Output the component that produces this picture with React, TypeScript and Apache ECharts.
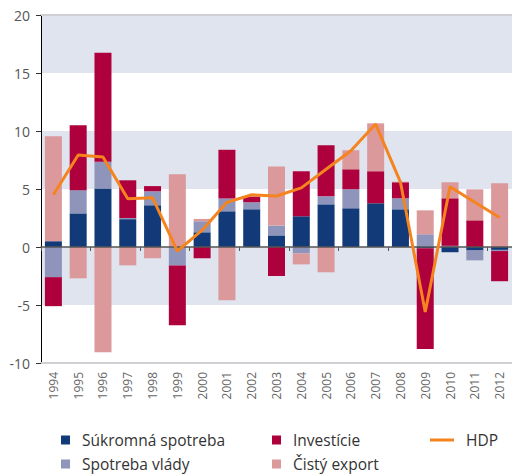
import React, { useEffect, useRef } from "react";
import * as echarts from "echarts";

const years = ["1994","1995","1996","1997","1998","1999","2000","2001","2002","2003","2004","2005","2006","2007","2008","2009","2010","2011","2012"];
const privateCons = [0.5, 2.9, 5.05, 2.4, 3.6, 0, 1.27, 3.08, 3.25, 1.0, 2.65, 3.68, 3.34, 3.77, 3.25, -0.1, -0.45, -0.3, -0.25];
const govCons = [-2.6, 2.0, 2.3, 0.1, 1.2, -1.6, 0.95, 1.1, 0.6, 0.85, -0.55, 0.69, 1.64, 0, 0.95, 1.1, 0.1, -0.85, -0.1];
const investment = [-2.5, 5.6, 9.4, 3.25, 0.45, -5.15, -0.97, 4.2, 0.5, -2.5, 3.88, 4.4, 1.72, 2.76, 1.38, -8.7, 4.1, 2.3, -2.6];
const netExport = [9.05, -2.7, -9.08, -1.58, -0.97, 6.27, 0.2, -4.6, 0, 5.1, -0.95, -2.18, 1.64, 4.13, 0.05, 2.06, 1.38, 2.67, 5.49];
const hdp = [4.5, 7.93, 7.76, 4.15, 4.25, -0.35, 1.45, 3.85, 4.5, 4.4, 5.1, 6.7, 8.3, 10.6, 5.6, -5.6, 5.2, 3.85, 2.55];

const names = ["Súkromná spotreba", "Spotreba vlády", "Investície", "Čistý export", "HDP"];
const colors = ["#123a78", "#8f95ba", "#ae003c", "#db999c", "#f5841f"];
const FONT = "Open Sans";

export default function App() {
  const ref = useRef<HTMLDivElement>(null);
  useEffect(() => {
    const chart = echarts.init(ref.current!, null, { renderer: "svg" });
    const barSeries = [privateCons, govCons, investment, netExport].map((d, i) => ({
      name: names[i],
      type: "bar",
      stack: "total",
      barWidth: 17,
      xAxisIndex: 0,
      itemStyle: { color: colors[i] },
      data: d,
    }));
    const legendBase = {
      orient: "vertical",
      top: 432,
      height: 60,
      padding: 0,
      itemGap: 8,
      textStyle: { fontSize: 15.5, color: "#333", fontFamily: FONT, padding: [0, 0, 0, 7] },
    };
    chart.setOption({
      animation: false,
      textStyle: { fontFamily: FONT },
      grid: { left: 41, right: -5, top: 15, bottom: 113 },
      xAxis: [
        {
          type: "category",
          data: years,
          position: "bottom",
          axisLine: { onZero: false, lineStyle: { color: "#cfd0d3", width: 2 } },
          axisTick: { show: false },
          axisLabel: { rotate: 90, margin: 9, color: "#666", fontSize: 12, fontFamily: FONT },
          splitLine: { show: false },
        },
        {
          type: "category",
          data: years,
          position: "bottom",
          z: 3,
          axisLine: { onZero: true, lineStyle: { color: "#555", width: 1.5 } },
          axisTick: { show: true, length: 4, lineStyle: { color: "#555" } },
          axisLabel: { show: false },
          splitLine: { show: false },
        },
        {
          type: "category",
          data: years,
          position: "top",
          axisLine: { onZero: false, lineStyle: { color: "#cfd0d3", width: 2 } },
          axisTick: { show: false },
          axisLabel: { show: false },
          splitLine: { show: false },
        },
      ],
      yAxis: {
        type: "value",
        min: -10,
        max: 20,
        interval: 5,
        axisLine: { show: true, onZero: false, lineStyle: { color: "#000", width: 1 } },
        axisTick: { show: true, length: 5, lineStyle: { color: "#333" } },
        axisLabel: { margin: 11, color: "#555", fontSize: 14, fontFamily: FONT },
        splitLine: { show: false },
        splitArea: { show: true, areaStyle: { color: ["rgba(0,0,0,0)", "#dfe4ee"] } },
      },
      legend: [
        { ...legendBase, left: 61, itemWidth: 9, itemHeight: 9, icon: "rect", data: [names[0], names[1]] },
        { ...legendBase, left: 272, itemWidth: 9, itemHeight: 9, icon: "rect", data: [names[2], names[3]] },
        { ...legendBase, left: 430, itemWidth: 24, itemHeight: 3, icon: "rect", data: [names[4]] },
      ],
      series: [
        ...barSeries,
        {
          name: names[4],
          type: "line",
          xAxisIndex: 0,
          symbol: "none",
          z: 5,
          lineStyle: { color: colors[4], width: 3 },
          itemStyle: { color: colors[4] },
          data: hdp,
        },
      ],
    });
    return () => chart.dispose();
  }, []);
  return <div ref={ref} style={{ position: "absolute", left: 0, top: 0, width: 512, height: 476 }} />;
}
